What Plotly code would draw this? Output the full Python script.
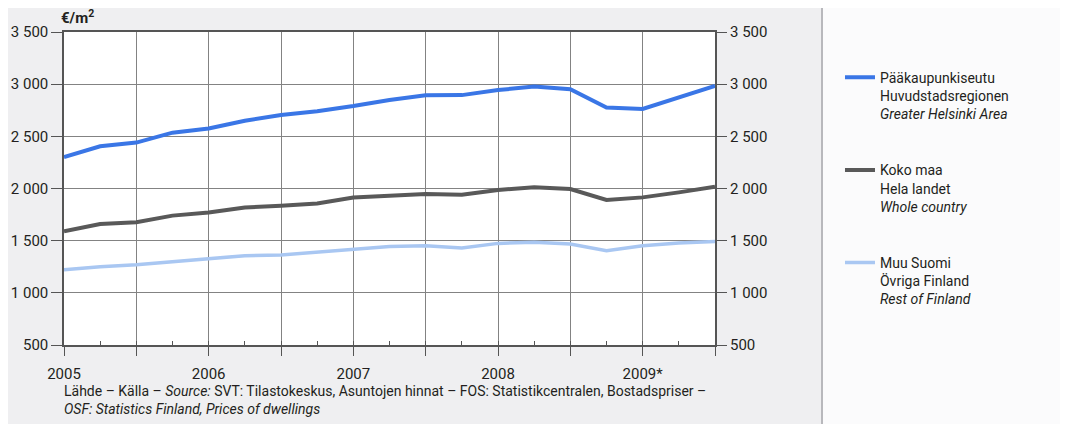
import plotly.graph_objects as go

# Neljännesvuodet 2005Q1 ... 2009Q3
quarters = ['2005Q1', '2005Q2', '2005Q3', '2005Q4',
            '2006Q1', '2006Q2', '2006Q3', '2006Q4',
            '2007Q1', '2007Q2', '2007Q3', '2007Q4',
            '2008Q1', '2008Q2', '2008Q3', '2008Q4',
            '2009Q1', '2009Q2', '2009Q3']

helsinki = [2300, 2405, 2440, 2535, 2575, 2650, 2705, 2740, 2790, 2848,
            2893, 2895, 2943, 2978, 2952, 2776, 2762, 2872, 2984]
koko_maa = [1590, 1660, 1676, 1740, 1770, 1818, 1835, 1857, 1914, 1932,
            1947, 1941, 1986, 2013, 1995, 1890, 1915, 1963, 2017]
muu_suomi = [1220, 1251, 1270, 1299, 1334, 1356, 1363, 1388, 1420, 1445,
             1452, 1430, 1474, 1484, 1468, 1404, 1452, 1478, 1493]

year_labels = ['2005', '2006', '2007', '2008', '2009*']
y_ticks = [500, 1000, 1500, 2000, 2500, 3000, 3500]

series_names = [
    'Pääkaupunkiseutu<br>Huvudstadsregionen<br><i>Greater Helsinki Area</i>',
    'Koko maa<br>Hela landet<br><i>Whole country</i>',
    'Muu Suomi<br>Övriga Finland<br><i>Rest of Finland</i>',
]

FONT = 'Roboto, Liberation Sans, sans-serif'
TXT = '#231f20'
AXIS = '#555555'
GRID = '#838383'
PANEL = '#efeff1'

x = list(range(len(quarters)))
year_pos = x[::4]

# page body has an 8 px margin -> figure is 8 px smaller than the window
W, H = 1060, 416
L, R, T, B = 56, 353, 24, 79
PW, PH = W - L - R, H - T - B

fig = go.Figure()

fig.add_trace(go.Scatter(x=x, y=helsinki, name=series_names[0], mode='lines',
                         line=dict(color='#3a76e6', width=4), legendgroup='a'))
fig.add_trace(go.Scatter(x=x, y=koko_maa, name=series_names[1], mode='lines',
                         line=dict(color='#595959', width=4), legendgroup='b'))
fig.add_trace(go.Scatter(x=x, y=muu_suomi, name=series_names[2], mode='lines',
                         line=dict(color='#a9c7f2', width=3.5), legendgroup='c'))
# invisible helper for the right axis and the quarter ticks
fig.add_trace(go.Scatter(x=x, y=helsinki, xaxis='x2', yaxis='y2', mode='lines',
                         line=dict(width=0), opacity=0, showlegend=False,
                         hoverinfo='skip'))

fig.update_layout(
    width=W, height=H,
    margin=dict(l=L, r=R, t=T, b=B, autoexpand=False),
    paper_bgcolor=PANEL,
    plot_bgcolor='white',
    separators=', ',
    font=dict(family=FONT, size=15, color=TXT),
    showlegend=True,
    legend=dict(x=1.192, y=0.905, xanchor='left', yanchor='top',
                valign='top', tracegroupgap=35, bgcolor='rgba(0,0,0,0)',
                font=dict(family=FONT, size=14, color=TXT)),
    xaxis=dict(range=[0, len(quarters) - 1], tickmode='array',
               tickvals=year_pos, ticktext=year_labels, automargin=False,
               showgrid=True, gridcolor=GRID, gridwidth=1,
               showline=True, linecolor=AXIS, linewidth=1.5, mirror=True,
               ticks='outside', ticklen=9, tickcolor=AXIS,
               ticklabelstandoff=5,
               minor=dict(tickmode='linear', tick0=0, dtick=2, ticks='outside',
                          ticklen=9, tickcolor=AXIS, showgrid=True,
                          gridcolor=GRID, gridwidth=1),
               tickfont=dict(size=15), zeroline=False),
    xaxis2=dict(range=[0, len(quarters) - 1], overlaying='x', side='bottom',
                tickmode='linear', tick0=0, dtick=1, ticks='inside',
                ticklen=4, tickcolor=AXIS, showticklabels=False,
                automargin=False, showgrid=False, showline=False,
                zeroline=False),
    yaxis=dict(range=[500, 3500], tickmode='array', tickvals=y_ticks,
               tickformat=',d', automargin=False,
               showgrid=True, gridcolor=GRID, gridwidth=1,
               showline=True, linecolor=AXIS, linewidth=1.5, mirror=True,
               ticks='outside', ticklen=11, tickcolor=AXIS,
               tickfont=dict(size=15), zeroline=False),
    yaxis2=dict(range=[500, 3500], overlaying='y', side='right',
                tickmode='array', tickvals=y_ticks, tickformat=',d',
                automargin=False, showgrid=False, showline=False,
                ticks='outside', ticklen=11, tickcolor=AXIS,
                tickfont=dict(size=15), zeroline=False),
)

# white legend area at right, separated by a grey rule
sep = (822 - 8 - L) / PW
fig.add_shape(type='rect', xref='paper', yref='paper',
              x0=sep, x1=(W - L) / PW, y0=-B / PH, y1=1 + T / PH,
              fillcolor='#fbfbfc', line=dict(width=0), layer='below')
fig.add_shape(type='line', xref='paper', yref='paper',
              x0=sep, x1=sep, y0=-B / PH, y1=1 + T / PH,
              line=dict(color='#b8b8bc', width=2), layer='below')

fig.add_annotation(text='<b>€/m<sup>2</sup></b>', xref='paper', yref='paper',
                   x=-0.008, y=1.008, xanchor='left', yanchor='bottom',
                   showarrow=False, font=dict(size=15))

fig.add_annotation(
    text='Lähde – Källa – <i>Source:</i> SVT: Tilastokeskus, Asuntojen hinnat – '
         'FOS: Statistikcentralen, Bostadspriser –<br>'
         '<i>OSF: Statistics Finland, Prices of dwellings</i>',
    xref='paper', yref='paper', x=-0.003, y=-0.116, xanchor='left', yanchor='top',
    align='left', showarrow=False, font=dict(size=14))

fig.write_html('out.html')
